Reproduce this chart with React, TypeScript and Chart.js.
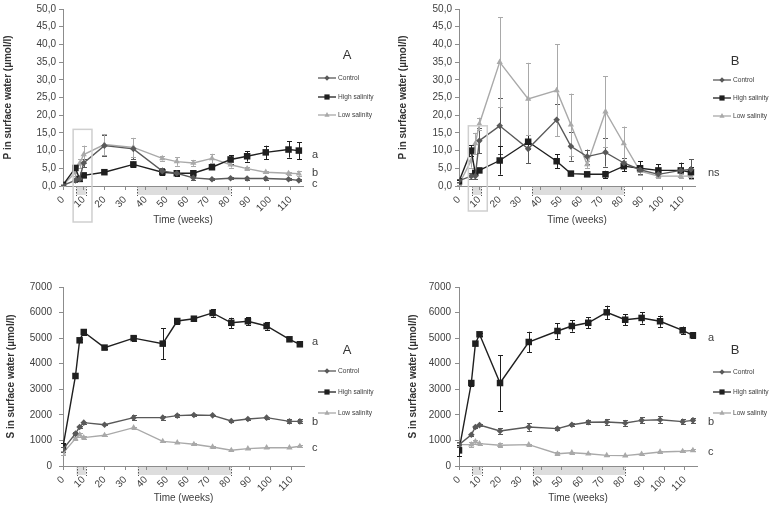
import React, { useEffect, useRef } from 'react';
import { Chart, registerables } from 'chart.js';
Chart.register(...registerables);

// ---------- data ----------
const weeks = [0, 6, 8, 10, 20, 34, 48, 55, 63, 72, 81, 89, 98, 109, 114];
const seriesNames = ['Control', 'High salinity', 'Low salinity'];
const treatmentBands = [[6.5, 11], [36, 81]];

// P in surface water, panel A
const pControlA = [0.2, 1.6, 2.0, 6.5, 11.4, 10.5, 4.2, 3.6, 2.3, 1.9, 2.2, 2.1, 2.1, 1.9, 1.6];
const pControlAErr = [0.2, 0.4, 0.5, 1.2, 3.0, 3.0, 1.0, 0.8, 0.6, 0.3, 0.3, 0.3, 0.3, 0.3, 0.3];
const pHighA = [0.3, 5.1, 2.0, 3.0, 3.9, 6.1, 3.9, 3.6, 3.6, 5.3, 7.5, 8.4, 9.5, 10.3, 10.0];
const pHighAErr = [0.2, 0.5, 0.5, 0.4, 0.4, 0.8, 0.8, 0.9, 0.8, 0.5, 1.2, 1.5, 1.9, 2.3, 2.4];
const pLowA = [0.3, 3.8, 6.3, 8.9, 11.7, 10.9, 7.8, 6.9, 6.5, 7.8, 6.0, 4.9, 3.9, 3.6, 3.5];
const pLowAErr = [0.2, 1.0, 1.2, 2.5, 3.0, 2.7, 0.6, 1.2, 0.8, 1.3, 0.8, 0.4, 0.3, 0.4, 0.6];

// P in surface water, panel B
const pControlB = [1.5, 2.8, 2.8, 12.8, 17.0, 10.5, 18.7, 11.2, 8.3, 9.5, 6.5, 4.6, 3.3, 4.4, 4.7];
const pControlBErr = [0.5, 0.8, 0.8, 3.5, 8.0, 4.0, 4.5, 4.0, 2.0, 4.0, 1.5, 1.2, 1.0, 2.0, 2.8];
const pHighB = [1.3, 10.0, 3.7, 4.4, 7.2, 12.5, 7.0, 3.5, 3.3, 3.3, 5.6, 5.0, 4.4, 4.4, 3.9];
const pHighBErr = [0.4, 1.5, 0.5, 0.5, 4.0, 2.0, 2.0, 0.5, 0.5, 1.0, 1.5, 2.0, 1.7, 2.2, 1.5];
const pLowB = [0.5, 7.2, 12.0, 17.5, 35.0, 24.6, 27.0, 17.3, 6.1, 21.0, 12.0, 4.2, 2.8, 2.8, 2.8];
const pLowBErr = [0.3, 2.0, 3.0, 1.8, 12.7, 10.2, 13.0, 8.8, 1.0, 10.0, 4.8, 1.0, 0.5, 0.5, 0.7];

// S in surface water, panel A
const sControlA = [650, 1265, 1525, 1695, 1615, 1890, 1890, 1970, 1995, 1980, 1760, 1840, 1890, 1745, 1745];
const sControlAErr = [100, 50, 40, 40, 30, 100, 80, 50, 40, 30, 40, 50, 40, 80, 80];
const sHighA = [750, 3520, 4915, 5240, 4630, 5000, 4785, 5670, 5760, 5985, 5600, 5660, 5475, 4955, 4760];
const sHighAErr = [150, 60, 60, 100, 50, 100, 600, 100, 100, 150, 200, 150, 150, 70, 60];
const sLowA = [510, 1070, 1225, 1110, 1200, 1500, 965, 915, 850, 745, 615, 680, 715, 715, 770];
const sLowAErr = [80, 60, 80, 50, 40, 40, 30, 30, 30, 30, 30, 30, 30, 30, 40];

// S in surface water, panel B
const sControlB = [835, 1225, 1525, 1600, 1370, 1525, 1460, 1615, 1710, 1720, 1680, 1785, 1810, 1735, 1785];
const sControlBErr = [100, 40, 40, 40, 100, 150, 50, 50, 80, 100, 100, 120, 130, 100, 100];
const sHighB = [610, 3245, 4785, 5150, 3245, 4850, 5280, 5475, 5600, 6010, 5720, 5790, 5660, 5305, 5110];
const sHighBErr = [230, 100, 50, 60, 1080, 400, 300, 220, 220, 260, 220, 220, 220, 150, 120];
const sLowB = [835, 835, 950, 875, 810, 835, 480, 520, 480, 415, 405, 470, 550, 575, 610];
const sLowBErr = [60, 100, 80, 40, 80, 40, 60, 40, 30, 30, 30, 40, 40, 40, 40];

// ---------- styling ----------
const FONT = "'Liberation Sans', Arial, Helvetica, sans-serif";
const C_CONTROL = '#595959';
const C_HIGH = '#1f1f1f';
const C_LOW = '#a9a9a9';
const AXIS = '#8c8c8c';
const TXT = '#404040';

const seriesStyles = [
  { color: C_CONTROL, point: 'rectRot', r: 3.3 },
  { color: C_HIGH, point: 'rect', r: 4.6 },
  { color: C_LOW, point: 'triangle', r: 3.6 },
];

function drawMarker(ctx: CanvasRenderingContext2D, style: string, x: number, y: number, r: number, color: string) {
  ctx.save();
  ctx.fillStyle = color;
  ctx.beginPath();
  if (style === 'rect') {
    const s = r * Math.SQRT1_2;
    ctx.rect(x - s, y - s, 2 * s, 2 * s);
  } else if (style === 'rectRot') {
    ctx.moveTo(x, y - r);
    ctx.lineTo(x + r, y);
    ctx.lineTo(x, y + r);
    ctx.lineTo(x - r, y);
    ctx.closePath();
  } else {
    ctx.moveTo(x, y - r);
    ctx.lineTo(x + r * 0.9, y + r * 0.6);
    ctx.lineTo(x - r * 0.9, y + r * 0.6);
    ctx.closePath();
  }
  ctx.fill();
  ctx.restore();
}

const decorPlugin = {
  id: 'decor',
  beforeDraw(chart: any, _args: any, opts: any) {
    const { ctx, chartArea, scales } = chart;
    const x = scales.x;
    const axisY = chartArea.bottom;
    ctx.save();
    (opts.bands || []).forEach((b: number[]) => {
      const xa = x.getPixelForValue(b[0]);
      const xb = x.getPixelForValue(b[1]);
      ctx.fillStyle = '#dddddd';
      ctx.fillRect(xa, axisY + 1, xb - xa, 8);
      ctx.strokeStyle = '#555';
      ctx.lineWidth = 1;
      ctx.setLineDash([1.5, 1.5]);
      [xa, xb].forEach((px) => {
        ctx.beginPath();
        ctx.moveTo(Math.round(px) + 0.5, axisY);
        ctx.lineTo(Math.round(px) + 0.5, axisY + 10);
        ctx.stroke();
      });
      ctx.setLineDash([]);
    });
    ctx.restore();
  },
  beforeDatasetsDraw(chart: any) {
    const { ctx, scales } = chart;
    const x = scales.x, y = scales.y;
    chart.data.datasets.forEach((ds: any) => {
      if (!ds.errors) return;
      ctx.save();
      ctx.strokeStyle = ds.borderColor;
      ctx.lineWidth = 1;
      ds.data.forEach((p: any, j: number) => {
        const e = ds.errors[j];
        if (!e) return;
        const px = Math.round(x.getPixelForValue(p.x)) + 0.5;
        const y0 = y.getPixelForValue(p.y - e);
        const y1 = y.getPixelForValue(p.y + e);
        ctx.beginPath();
        ctx.moveTo(px, y0);
        ctx.lineTo(px, y1);
        ctx.moveTo(px - 2.5, Math.round(y0) + 0.5);
        ctx.lineTo(px + 2.5, Math.round(y0) + 0.5);
        ctx.moveTo(px - 2.5, Math.round(y1) + 0.5);
        ctx.lineTo(px + 2.5, Math.round(y1) + 0.5);
        ctx.stroke();
      });
      ctx.restore();
    });
  },
  afterDraw(chart: any, _args: any, opts: any) {
    const { ctx, chartArea, scales } = chart;
    const x = scales.x, y = scales.y;
    ctx.save();
    if (opts.box) {
      const bx0 = x.getPixelForValue(opts.box.x0);
      const bx1 = x.getPixelForValue(opts.box.x1);
      const by0 = y.getPixelForValue(opts.box.top);
      const by1 = chartArea.bottom + opts.box.below;
      ctx.strokeStyle = '#cfcfcf';
      ctx.lineWidth = 1.5;
      ctx.strokeRect(bx0, by0, bx1 - bx0, by1 - by0);
    }
    ctx.fillStyle = '#333';
    ctx.font = `13px ${FONT}`;
    ctx.textAlign = 'center';
    ctx.textBaseline = 'middle';
    ctx.fillText(opts.panel, opts.panelPos[0], opts.panelPos[1]);
    chart.data.datasets.forEach((ds: any, i: number) => {
      const st = seriesStyles[i];
      const ly = opts.legendRows[i];
      const lx = opts.legendX;
      ctx.strokeStyle = st.color;
      ctx.lineWidth = 1.3;
      ctx.beginPath();
      ctx.moveTo(lx, ly);
      ctx.lineTo(lx + 18, ly);
      ctx.stroke();
      drawMarker(ctx, st.point, lx + 9, ly, st.r * 0.8, st.color);
      ctx.fillStyle = TXT;
      ctx.font = `6.6px ${FONT}`;
      ctx.textAlign = 'left';
      ctx.textBaseline = 'middle';
      ctx.fillText(ds.label, lx + 20, ly);
    });
    ctx.fillStyle = TXT;
    ctx.font = `11px ${FONT}`;
    ctx.textAlign = 'left';
    ctx.textBaseline = 'middle';
    (opts.letters || []).forEach((l: any) => {
      ctx.fillText(l.t, chartArea.right + opts.letterDx, y.getPixelForValue(l.v));
    });
    ctx.restore();
  },
};

type Spec = {
  left: number; top: number; w: number; h: number;
  series: number[][]; errors: number[][];
  yMax: number; yStep: number; yTitle: string; decimals: boolean;
  pad: { left: number; right: number; top: number; bottom: number };
  yWidth: number; xHeight: number; yTickPad: number;
  decor: any;
};

const panels: Spec[] = [
  {
    left: 0, top: 0, w: 380, h: 250,
    series: [pControlA, pHighA, pLowA], errors: [pControlAErr, pHighAErr, pLowAErr],
    yMax: 50, yStep: 5, yTitle: 'P in surface water (µmol/l)', decimals: true,
    pad: { left: 1, right: 77, top: 7, bottom: 22 }, yWidth: 62, xHeight: 42, yTickPad: 3,
    decor: {
      panel: 'A', panelPos: [347, 55], legendX: 318, legendRows: [78, 97, 115],
      letters: [{ t: 'a', v: 8.7 }, { t: 'b', v: 3.6 }, { t: 'c', v: 0.6 }], letterDx: 9,
      bands: treatmentBands, box: { x0: 4.9, x1: 14, top: 16, below: 36 },
    },
  },
  {
    left: 380, top: 0, w: 389, h: 250,
    series: [pControlB, pHighB, pLowB], errors: [pControlBErr, pHighBErr, pLowBErr],
    yMax: 50, yStep: 5, yTitle: 'P in surface water (µmol/l)', decimals: true,
    pad: { left: 16, right: 74, top: 7, bottom: 22 }, yWidth: 63, xHeight: 42, yTickPad: 3,
    decor: {
      panel: 'B', panelPos: [355, 61], legendX: 333, legendRows: [80, 98, 116],
      letters: [{ t: 'ns', v: 3.6 }], letterDx: 13,
      bands: treatmentBands, box: { x0: 4.6, x1: 13.9, top: 17, below: 25 },
    },
  },
  {
    left: 0, top: 250, w: 380, h: 258,
    series: [sControlA, sHighA, sLowA], errors: [sControlAErr, sHighAErr, sLowAErr],
    yMax: 7000, yStep: 1000, yTitle: 'S in surface water (µmol/l)', decimals: false,
    pad: { left: 4, right: 76, top: 37, bottom: 2 }, yWidth: 59, xHeight: 40, yTickPad: 7,
    decor: {
      panel: 'A', panelPos: [347, 100], legendX: 318, legendRows: [121, 142, 163],
      letters: [{ t: 'a', v: 4850 }, { t: 'b', v: 1720 }, { t: 'c', v: 700 }], letterDx: 8,
      bands: treatmentBands,
    },
  },
  {
    left: 380, top: 250, w: 389, h: 258,
    series: [sControlB, sHighB, sLowB], errors: [sControlBErr, sHighBErr, sLowBErr],
    yMax: 7000, yStep: 1000, yTitle: 'S in surface water (µmol/l)', decimals: false,
    pad: { left: 26, right: 72, top: 37, bottom: 2 }, yWidth: 53, xHeight: 40, yTickPad: 4,
    decor: {
      panel: 'B', panelPos: [355, 100], legendX: 333, legendRows: [122, 142, 163],
      letters: [{ t: 'a', v: 5000 }, { t: 'b', v: 1720 }, { t: 'c', v: 550 }], letterDx: 11,
      bands: treatmentBands,
    },
  },
];

function Panel({ spec }: { spec: Spec }) {
  const ref = useRef<HTMLCanvasElement>(null);
  useEffect(() => {
    const datasets = spec.series.map((vals, i) => ({
      label: seriesNames[i],
      data: vals.map((v, j) => ({ x: weeks[j], y: v })),
      errors: spec.errors[i],
      borderColor: seriesStyles[i].color,
      backgroundColor: seriesStyles[i].color,
      pointBackgroundColor: seriesStyles[i].color,
      pointBorderColor: seriesStyles[i].color,
      pointBorderWidth: 0,
      pointStyle: seriesStyles[i].point,
      pointRadius: seriesStyles[i].r,
      borderWidth: 1.4,
      tension: 0,
      fill: false,
    }));
    const chart = new Chart(ref.current as HTMLCanvasElement, {
      type: 'line',
      data: { datasets } as any,
      plugins: [decorPlugin as any],
      options: {
        animation: false,
        responsive: false,
        devicePixelRatio: 1,
        layout: { padding: spec.pad },
        font: { family: FONT },
        plugins: {
          legend: { display: false },
          tooltip: { enabled: false },
          decor: spec.decor,
        } as any,
        scales: {
          x: {
            type: 'linear',
            min: 0,
            max: 116,
            afterFit: (s: any) => { s.height = spec.xHeight; },
            border: { display: true, color: AXIS, width: 1 },
            grid: { drawOnChartArea: false, drawTicks: true, tickLength: 4, color: AXIS },
            ticks: {
              stepSize: 10,
              includeBounds: false,
              autoSkip: false,
              minRotation: 45,
              maxRotation: 45,
              padding: 4,
              color: TXT,
              font: { family: FONT, size: 10 },
            },
            title: {
              display: true,
              text: 'Time (weeks)',
              color: TXT,
              font: { family: FONT, size: 10 },
              padding: { top: 2, bottom: 2 },
            },
          },
          y: {
            type: 'linear',
            min: 0,
            max: spec.yMax,
            afterFit: (s: any) => { s.width = spec.yWidth; },
            border: { display: true, color: AXIS, width: 1 },
            grid: { drawOnChartArea: false, drawTicks: true, tickLength: 4, color: AXIS },
            ticks: {
              stepSize: spec.yStep,
              padding: spec.yTickPad,
              color: TXT,
              font: { family: FONT, size: 10 },
              callback: (v: any) => (spec.decimals ? Number(v).toFixed(1).replace('.', ',') : String(v)),
            },
            title: {
              display: true,
              text: spec.yTitle,
              color: '#333',
              font: { family: FONT, size: 10, weight: 'bold' },
              padding: { top: 1, bottom: 1 },
            },
          },
        },
      } as any,
    });
    return () => chart.destroy();
  }, []);
  return (
    <div style={{ position: 'absolute', left: spec.left, top: spec.top, width: spec.w, height: spec.h }}>
      <canvas ref={ref} width={spec.w} height={spec.h} style={{ width: spec.w, height: spec.h, display: 'block' }} />
    </div>
  );
}

export default function App() {
  return (
    <div style={{ position: 'absolute', left: 0, top: 0, width: 769, height: 508, background: '#fff' }}>
      {panels.map((p, i) => (
        <Panel key={i} spec={p} />
      ))}
    </div>
  );
}
